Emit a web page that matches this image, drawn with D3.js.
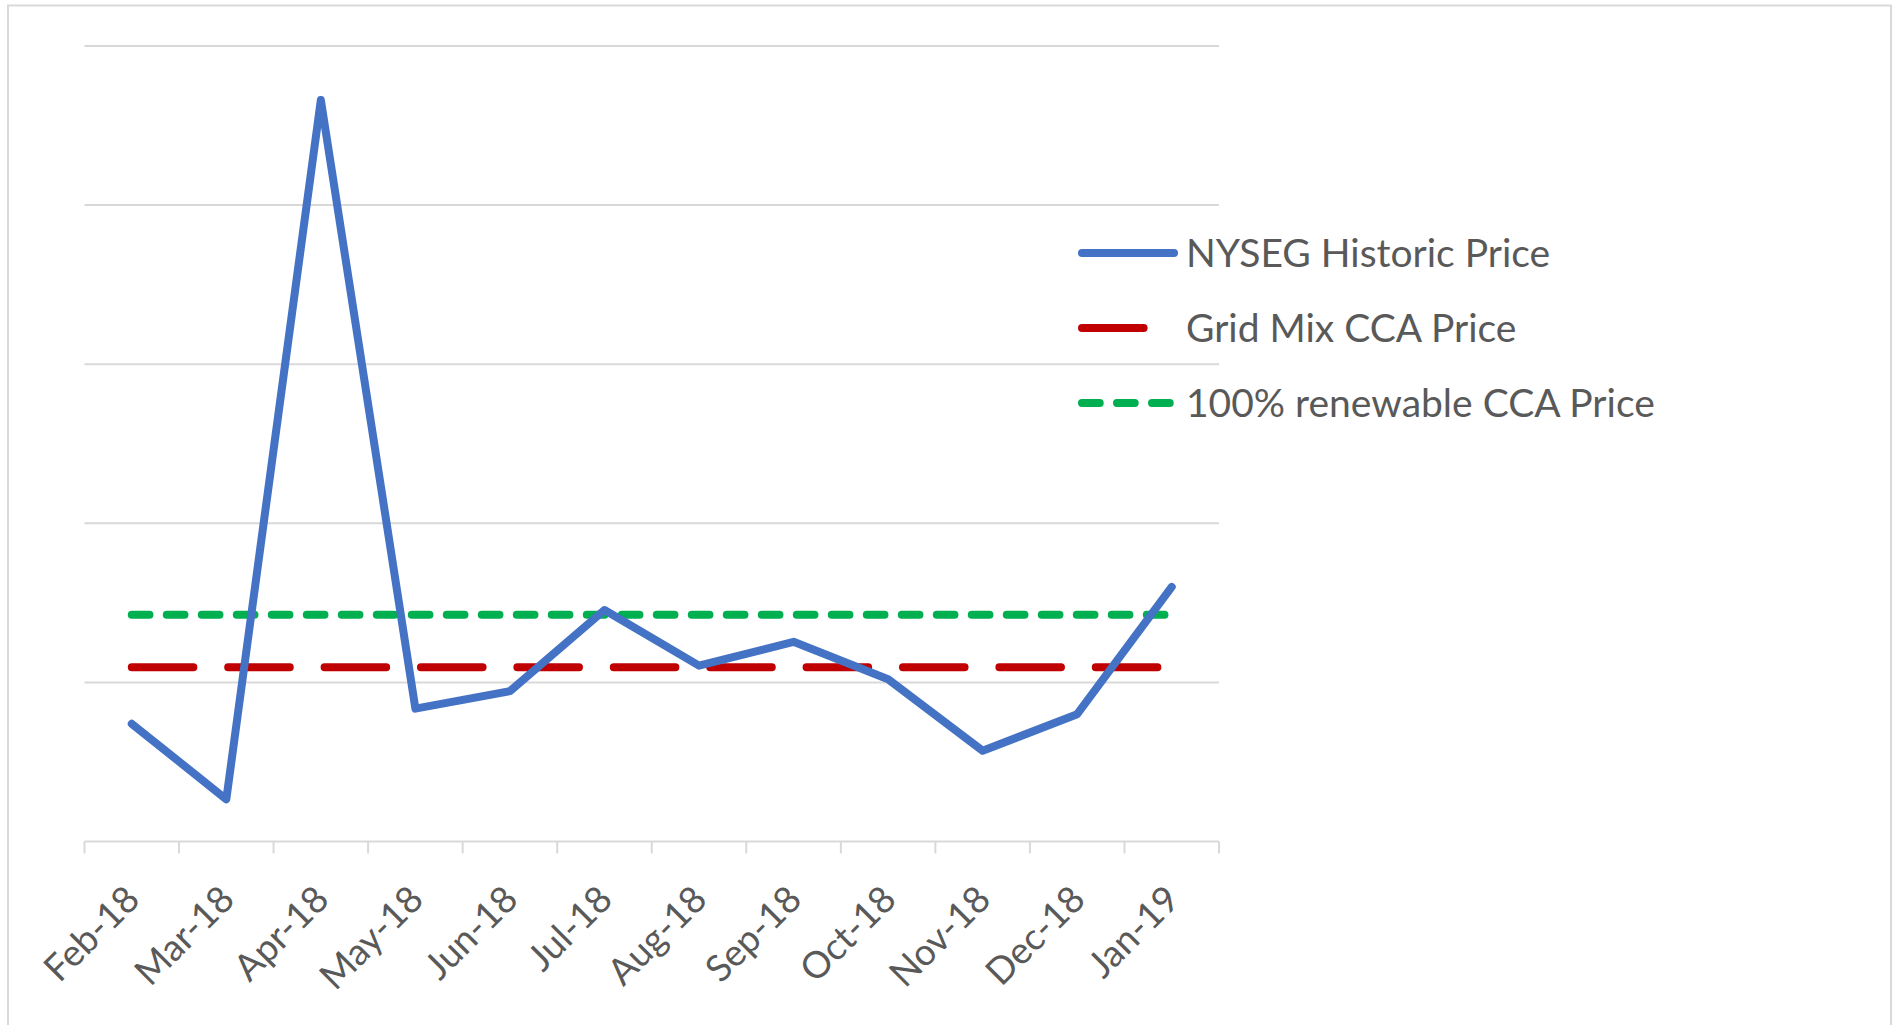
<!DOCTYPE html>
<html>
<head>
<meta charset="utf-8">
<script src="https://cdn.jsdelivr.net/npm/d3@7"></script>
<style>
    body { margin: 0; background: #fff; }
    text { font-family: Lato, "Open Sans", sans-serif; fill: #595959; }
</style>
</head>
<body>
<div id="chart"></div>
<script>
// values (y axis has no labels, so units are relative)
let months = ["Feb-18", "Mar-18", "Apr-18", "May-18", "Jun-18", "Jul-18",
              "Aug-18", "Sep-18", "Oct-18", "Nov-18", "Dec-18", "Jan-19"];
let nysegPrice = [1.48, 0.53, 9.32, 1.67, 1.89, 2.91, 2.21, 2.51, 2.04, 1.14, 1.60, 3.20];
let gridMixPrice = 2.19;
let renewablePrice = 2.85;
let yTicks = [0, 2, 4, 6, 8, 10];

let seriesNames = ["NYSEG Historic Price", "Grid Mix CCA Price", "100% renewable CCA Price"];
let seriesColors = ["#4472c4", "#c00000", "#00b050"];
let seriesDash = [null, "61.6 34.8", "17.7 17.3"];

let width = 1893, height = 1025;
let plot = {left: 84.5, right: 1219, top: 45.9, bottom: 841.5};
let lineW = 8;

let svg = d3.select("#chart").append("svg")
    .attr("width", width)
    .attr("height", height);

// chart area border
svg.append("rect")
    .attr("x", 8)
    .attr("y", 5.5)
    .attr("width", 1883)
    .attr("height", 1100)
    .attr("fill", "none")
    .attr("stroke", "#d9d9d9")
    .attr("stroke-width", 2);

// scales
let x = d3.scaleBand()
    .domain(months)
    .range([plot.left, plot.right])
    .padding(0);
let cx = d => x(d) + x.bandwidth() / 2;

let y = d3.scaleLinear()
    .domain([d3.min(yTicks), d3.max(yTicks)])
    .range([plot.bottom, plot.top]);

// gridlines
svg.append("g")
    .attr("class", "grid")
    .selectAll("line")
    .data(yTicks.slice(1))
    .enter().append("line")
    .attr("x1", plot.left)
    .attr("x2", plot.right)
    .attr("y1", d => y(d))
    .attr("y2", d => y(d))
    .attr("stroke", "#d9d9d9")
    .attr("stroke-width", 2);

// x axis: line + ticks between categories
let axis = svg.append("g").attr("class", "x-axis");
axis.append("line")
    .attr("x1", plot.left)
    .attr("x2", plot.right)
    .attr("y1", y(0))
    .attr("y2", y(0))
    .attr("stroke", "#d9d9d9")
    .attr("stroke-width", 2);

let tickPos = months.map(d => x(d)).concat([x.range()[1]]);
axis.selectAll(".tick")
    .data(tickPos)
    .enter().append("line")
    .attr("class", "tick")
    .attr("x1", d => d)
    .attr("x2", d => d)
    .attr("y1", y(0))
    .attr("y2", y(0) + 12)
    .attr("stroke", "#d9d9d9")
    .attr("stroke-width", 2);

axis.selectAll(".label")
    .data(months)
    .enter().append("text")
    .attr("class", "label")
    .attr("text-anchor", "end")
    .attr("font-size", 37)
    .attr("transform", d => `translate(${cx(d) + 10}, ${y(0) + 60}) rotate(-45)`)
    .text(d => d);

// flat CCA price lines
let flat = [gridMixPrice, renewablePrice];
svg.append("g")
    .attr("class", "cca")
    .selectAll("line")
    .data(flat)
    .enter().append("line")
    .attr("x1", cx(months[0]))
    .attr("x2", cx(months[months.length - 1]))
    .attr("y1", d => y(d))
    .attr("y2", d => y(d))
    .attr("stroke", (d, i) => seriesColors[i + 1])
    .attr("stroke-width", lineW)
    .attr("stroke-linecap", "round")
    .attr("stroke-dasharray", (d, i) => seriesDash[i + 1]);

// NYSEG line
let line = d3.line()
    .x((d, i) => cx(months[i]))
    .y(d => y(d));

svg.append("path")
    .datum(nysegPrice)
    .attr("d", line)
    .attr("fill", "none")
    .attr("stroke", seriesColors[0])
    .attr("stroke-width", lineW)
    .attr("stroke-linejoin", "round")
    .attr("stroke-linecap", "round");

// legend
let legend = svg.append("g")
    .attr("class", "legend")
    .attr("transform", "translate(1082, 253)");
let legendLen = [92, 61.6, 87.7];

let rows = legend.selectAll(".row")
    .data(seriesNames)
    .enter().append("g")
    .attr("class", "row")
    .attr("transform", (d, i) => `translate(0, ${i * 75})`);

rows.append("line")
    .attr("x1", 0)
    .attr("x2", (d, i) => legendLen[i])
    .attr("stroke", (d, i) => seriesColors[i])
    .attr("stroke-width", lineW)
    .attr("stroke-linecap", "round")
    .attr("stroke-dasharray", (d, i) => seriesDash[i]);

rows.append("text")
    .attr("x", 104)
    .attr("dy", "0.35em")
    .attr("font-size", 39)
    .text(d => d);
</script>
</body>
</html>
